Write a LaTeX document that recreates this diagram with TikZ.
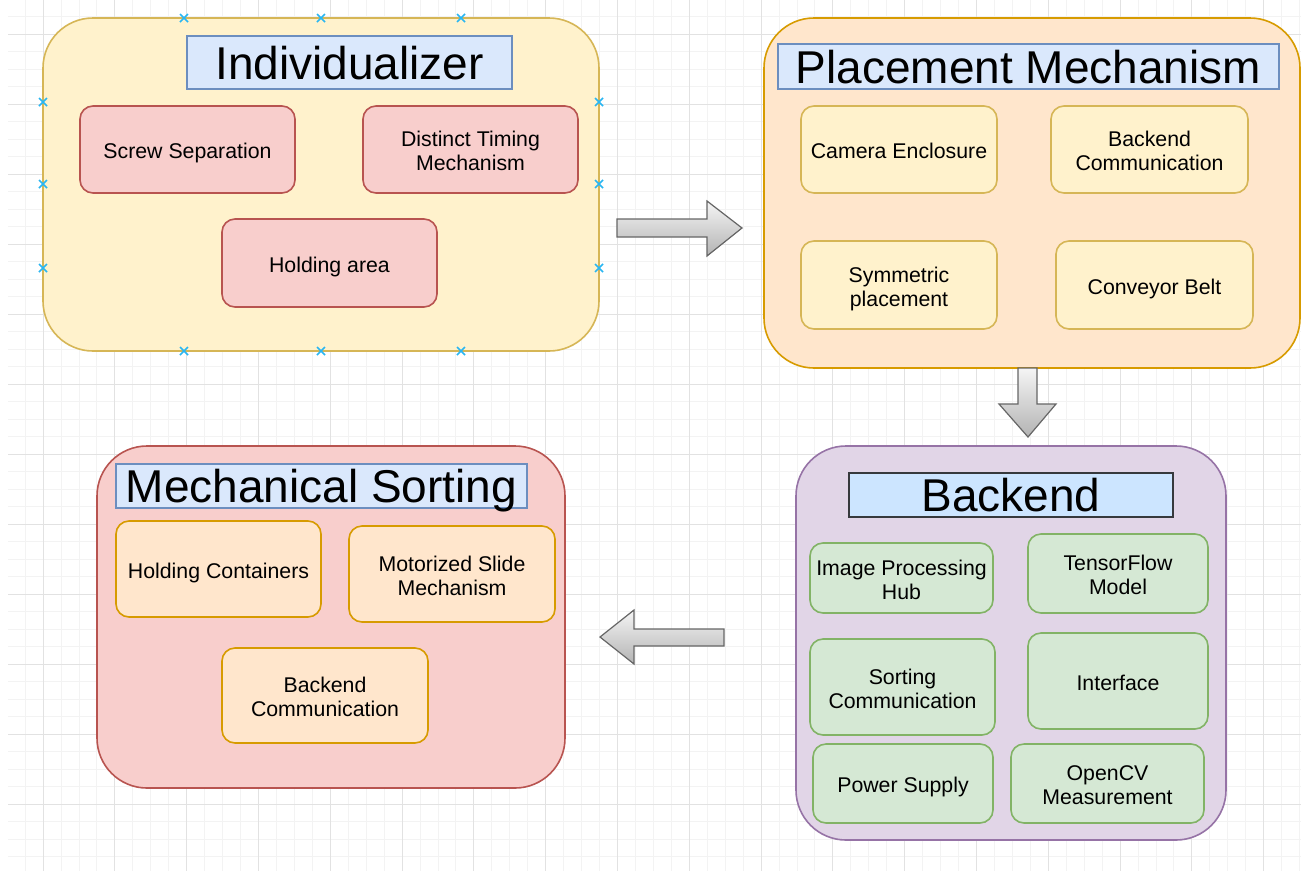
\documentclass[tikz,border=0pt]{standalone}
\usepackage{fontspec}
\setmainfont{Liberation Sans}

\definecolor{noteYellow}{HTML}{FFF2CC}
\definecolor{noteYellowLine}{HTML}{D6B656}
\definecolor{noteRed}{HTML}{F8CECC}
\definecolor{noteRedLine}{HTML}{B85450}
\definecolor{noteOrange}{HTML}{FFE6CC}
\definecolor{noteOrangeLine}{HTML}{D79B00}
\definecolor{notePurple}{HTML}{E1D5E7}
\definecolor{notePurpleLine}{HTML}{9673A6}
\definecolor{noteGreen}{HTML}{D5E8D4}
\definecolor{noteGreenLine}{HTML}{82B366}
\definecolor{noteBlue}{HTML}{DAE8FC}
\definecolor{noteBlueLine}{HTML}{6C8EBF}
\definecolor{titleBlue}{HTML}{CCE5FF}
\definecolor{titleDark}{HTML}{36393D}
\definecolor{arrowLine}{HTML}{666666}
\definecolor{arrowLight}{HTML}{F5F5F5}
\definecolor{arrowDark}{HTML}{B3B3B3}
\definecolor{gridMinor}{HTML}{F3F3F3}
\definecolor{gridMajor}{HTML}{E2E2E2}
\definecolor{handleBlue}{HTML}{29B6F2}

% box label: one-column tabular with a strut on top of the first row
\newcommand\partlabel[1]{\begin{tabular}{@{}c@{}}\rule{0pt}{1.2em}#1\end{tabular}}

\begin{document}
\begin{tikzpicture}[
        x=1pt, y=-1pt,
        panel/.style={rectangle, rounded corners=50pt, line width=1.6pt, anchor=north west, inner sep=0pt, outer sep=0pt},
        part/.style={rectangle, rounded corners=13pt, line width=1.6pt, anchor=north west, inner sep=1pt, outer sep=0pt, font=\fontsize{21.3}{24}\selectfont},
        heading/.style={rectangle, line width=1.6pt, anchor=north west, inner sep=0pt, outer sep=0pt, text depth=0pt, font=\fontsize{46}{50}\selectfont},
        block/.style={draw=arrowLine, line width=1.2pt, top color=arrowLight, bottom color=arrowDark},
        gridline/.style={draw=gridMinor, line width=0.8pt},
        gridbold/.style={draw=gridMajor, line width=1pt},
        handle/.style={draw=handleBlue, line width=1.6pt}
    ]
        \useasboundingbox (0,0) rectangle (1301,871);
        \fill[white] (0,0) rectangle (1301,871);

        % background grid
        \foreach \i in {-1,...,70} \draw[gridline] ({43+17.95*\i},0) -- ++(0,871);
        \foreach \j in {-1,...,47} \draw[gridline] (8,{34+17.5*\j}) -- (1301,{34+17.5*\j});
        \foreach \i in {0,...,17} \draw[gridbold] ({43+71.8*\i},0) -- ++(0,871);
        \foreach \j in {0,...,11} \draw[gridbold] (8,{34+70*\j}) -- (1301,{34+70*\j});

        % individualizer
        \node[panel, draw=noteYellowLine, fill=noteYellow, minimum width=556pt, minimum height=333pt] (indiv) at (43,18) {};
        \node[heading, draw=noteBlueLine, fill=noteBlue, minimum width=325pt, minimum height=53pt] (indivTitle) at ([xshift=144pt,yshift=-18pt]indiv.north west) {Individualizer};
        \node[part, draw=noteRedLine, fill=noteRed, minimum width=215pt, minimum height=87pt] (screw) at ([xshift=37pt,yshift=-88pt]indiv.north west) {\partlabel{Screw Separation}};
        \node[part, draw=noteRedLine, fill=noteRed, minimum width=215pt, minimum height=87pt] (timing) at ([xshift=320pt,yshift=-88pt]indiv.north west) {\partlabel{Distinct Timing\\Mechanism}};
        \node[part, draw=noteRedLine, fill=noteRed, minimum width=215pt, minimum height=88pt] (holding) at ([xshift=179pt,yshift=-201pt]indiv.north west) {\partlabel{Holding area}};
        \foreach \hx/\hy in {184/18, 321/18, 461/18, 184/351, 321/351, 461/351, 43/102, 43/184, 43/268, 599/102, 599/184, 599/268}
            \draw[handle] (\hx,\hy) ++(-4,-4) -- ++(8,8) ++(-8,0) -- ++(8,-8);

        % placement mechanism
        \node[panel, draw=noteOrangeLine, fill=noteOrange, minimum width=536pt, minimum height=350pt] (place) at (764,18) {};
        \node[heading, draw=noteBlueLine, fill=noteBlue, minimum width=501pt, minimum height=45pt] (placeTitle) at ([xshift=14pt,yshift=-26pt]place.north west) {Placement Mechanism};
        \node[part, draw=noteYellowLine, fill=noteYellow, minimum width=196pt, minimum height=87pt] (camera) at ([xshift=37pt,yshift=-88pt]place.north west) {\partlabel{Camera Enclosure}};
        \node[part, draw=noteYellowLine, fill=noteYellow, minimum width=197pt, minimum height=87pt] (placeComm) at ([xshift=287pt,yshift=-88pt]place.north west) {\partlabel{Backend\\Communication}};
        \node[part, draw=noteYellowLine, fill=noteYellow, minimum width=196pt, minimum height=88pt] (symmetric) at ([xshift=37pt,yshift=-223pt]place.north west) {\partlabel{Symmetric\\placement}};
        \node[part, draw=noteYellowLine, fill=noteYellow, minimum width=197pt, minimum height=88pt] (conveyor) at ([xshift=292pt,yshift=-223pt]place.north west) {\partlabel{Conveyor Belt}};

        % backend
        \node[panel, draw=notePurpleLine, fill=notePurple, minimum width=430pt, minimum height=394pt] (backend) at (796,446) {};
        \node[heading, draw=titleDark, fill=titleBlue, minimum width=324pt, minimum height=44pt] (backendTitle) at ([xshift=53pt,yshift=-27pt]backend.north west) {Backend};
        \node[part, draw=noteGreenLine, fill=noteGreen, minimum width=183pt, minimum height=70pt] (imgHub) at ([xshift=14pt,yshift=-97pt]backend.north west) {\partlabel{Image Processing\\Hub}};
        \node[part, draw=noteGreenLine, fill=noteGreen, minimum width=180pt, minimum height=79pt] (tfModel) at ([xshift=232pt,yshift=-88pt]backend.north west) {\partlabel{TensorFlow\\Model}};
        \node[part, draw=noteGreenLine, fill=noteGreen, minimum width=185pt, minimum height=96pt] (sortComm) at ([xshift=14pt,yshift=-193pt]backend.north west) {\partlabel{Sorting\\Communication}};
        \node[part, draw=noteGreenLine, fill=noteGreen, minimum width=180pt, minimum height=96pt] (interface) at ([xshift=232pt,yshift=-187pt]backend.north west) {\partlabel{Interface}};
        \node[part, draw=noteGreenLine, fill=noteGreen, minimum width=180pt, minimum height=79pt] (power) at ([xshift=17pt,yshift=-298pt]backend.north west) {\partlabel{Power Supply}};
        \node[part, draw=noteGreenLine, fill=noteGreen, minimum width=193pt, minimum height=79pt] (opencv) at ([xshift=215pt,yshift=-298pt]backend.north west) {\partlabel{OpenCV\\Measurement}};

        % mechanical sorting
        \node[panel, draw=noteRedLine, fill=noteRed, minimum width=468pt, minimum height=342pt] (sorting) at (97,446) {};
        \node[heading, draw=noteBlueLine, fill=noteBlue, minimum width=411pt, minimum height=44pt] (sortingTitle) at ([xshift=19pt,yshift=-18pt]sorting.north west) {Mechanical Sorting};
        \node[part, draw=noteOrangeLine, fill=noteOrange, minimum width=205pt, minimum height=96pt] (containers) at ([xshift=19pt,yshift=-75pt]sorting.north west) {\partlabel{Holding Containers}};
        \node[part, draw=noteOrangeLine, fill=noteOrange, minimum width=206pt, minimum height=96pt] (slide) at ([xshift=252pt,yshift=-80pt]sorting.north west) {\partlabel{Motorized Slide\\Mechanism}};
        \node[part, draw=noteOrangeLine, fill=noteOrange, minimum width=206pt, minimum height=95pt] (sortingComm) at ([xshift=125pt,yshift=-202pt]sorting.north west) {\partlabel{Backend\\Communication}};

        % flow arrows
        \path[block] (617,219) -- (707,219) -- (707,201) -- (742,228) -- (707,256) -- (707,237) -- (617,237) -- cycle;
        \path[block] (1018,368) -- (1037,368) -- (1037,404) -- (1056,404) -- (1028,437) -- (999,404) -- (1018,404) -- cycle;
        \path[block] (724,629) -- (634,629) -- (634,610) -- (600,637) -- (634,664) -- (634,646) -- (724,646) -- cycle;
    \end{tikzpicture}
\end{document}
